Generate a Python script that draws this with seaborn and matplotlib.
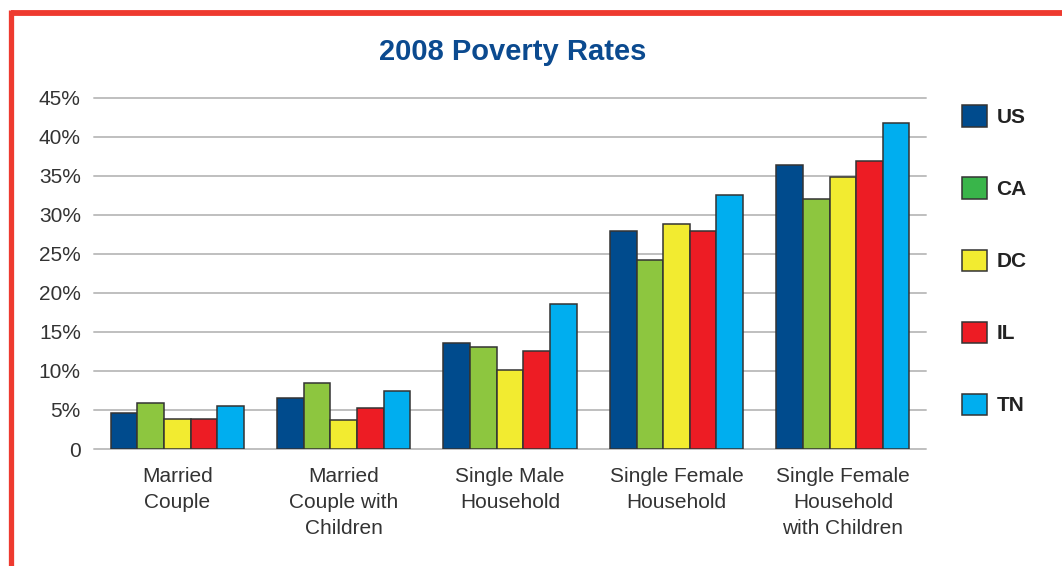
import matplotlib

matplotlib.use("Agg")
import matplotlib.pyplot as plt
import pandas as pd
import seaborn as sns
from matplotlib.lines import Line2D
from matplotlib.patches import Patch
from matplotlib.ticker import FuncFormatter, MultipleLocator


# household types on the x axis
CATEGORIES = [
    "Married\nCouple",
    "Married\nCouple with\nChildren",
    "Single Male\nHousehold",
    "Single Female\nHousehold",
    "Single Female\nHousehold\nwith Children",
]
REGIONS = ["US", "CA", "DC", "IL", "TN"]

# poverty rate in percent, one list per region
US = [4.6, 6.5, 13.6, 27.9, 36.3]
CA = [5.85, 8.4, 13.05, 24.2, 32.0]
DC = [3.9, 3.7, 10.1, 28.8, 34.85]
IL = [3.8, 5.3, 12.5, 27.9, 36.9]
TN = [5.5, 7.4, 18.6, 32.55, 41.7]

BAR_COLORS = ["#004b8d", "#8dc63f", "#f2eb30", "#ed1c24", "#00aeef"]
LEGEND_COLORS = ["#004b8d", "#39b54a", "#f2eb30", "#ed1c24", "#00aeef"]
TITLE_COLOR = "#0b4a8f"
FRAME_RED = "#ee3a2f"
TEXT_COLOR = "#333333"


def build_frame() -> pd.DataFrame:
    rows = []
    for region, values in zip(REGIONS, [US, CA, DC, IL, TN]):
        for category, value in zip(CATEGORIES, values):
            rows.append({"Household": category, "Region": region, "Rate": value})
    return pd.DataFrame(rows)


def percent_label(value: float, _: int) -> str:
    if value == 0:
        return "0"
    return f"{value:g}%"


def main() -> None:
    sns.set_theme(style="white")
    plt.rcParams["font.family"] = ["Liberation Sans", "DejaVu Sans"]

    df = build_frame()

    fig = plt.figure(figsize=(10.62, 5.66), dpi=100)
    ax = fig.add_axes([0.0885, 0.2067, 0.7835, 0.621])

    sns.barplot(
        data=df,
        x="Household",
        y="Rate",
        hue="Region",
        order=CATEGORIES,
        hue_order=REGIONS,
        palette=BAR_COLORS,
        width=0.8,
        edgecolor="#333333",
        linewidth=1.1,
        saturation=1,
        legend=False,
        ax=ax,
        zorder=3,
    )

    ax.set_xlim(-0.5, 4.5)
    ax.set_ylim(0, 45)
    ax.yaxis.set_major_locator(MultipleLocator(5))
    ax.yaxis.set_major_formatter(FuncFormatter(percent_label))
    ax.grid(axis="y", color="#bfbfbf", linewidth=1.4, zorder=0)
    for line in ax.get_ygridlines():
        line.set_clip_on(False)
    ax.set_axisbelow(True)
    for spine in ax.spines.values():
        spine.set_visible(False)

    ax.set_xlabel("")
    ax.set_ylabel("")
    ax.tick_params(axis="both", length=0, labelsize=15, colors=TEXT_COLOR)
    ax.tick_params(axis="x", pad=13)
    ax.tick_params(axis="y", pad=9.5)
    for label in ax.get_xticklabels():
        label.set_linespacing(1.45)

    fig.text(
        0.483,
        0.908,
        "2008 Poverty Rates",
        ha="center",
        va="center",
        fontsize=21,
        fontweight="bold",
        color=TITLE_COLOR,
    )

    handles = [
        Patch(facecolor=color, edgecolor="#333333", linewidth=1.1)
        for color in LEGEND_COLORS
    ]
    fig.legend(
        handles,
        REGIONS,
        loc="upper left",
        bbox_to_anchor=(0.906, 0.814),
        frameon=False,
        prop={"weight": "bold", "size": 15},
        handlelength=1.2,
        handleheight=1.2,
        handletextpad=0.45,
        labelspacing=2.42,
        borderpad=0,
        borderaxespad=0,
        labelcolor="#222222",
    )

    # red frame along the top and left edges
    fig.add_artist(Line2D([10.5 / 1062, 1.0], [1 - 13 / 566] * 2, color=FRAME_RED,
                          linewidth=4.2, solid_capstyle="butt",
                          transform=fig.transFigure))
    fig.add_artist(Line2D([10.5 / 1062] * 2, [0.0, 1 - 10 / 566], color=FRAME_RED,
                          linewidth=3.8, solid_capstyle="butt",
                          transform=fig.transFigure))

    fig.savefig("out.png", dpi=100, facecolor="white")
    plt.close(fig)


if __name__ == "__main__":
    main()
